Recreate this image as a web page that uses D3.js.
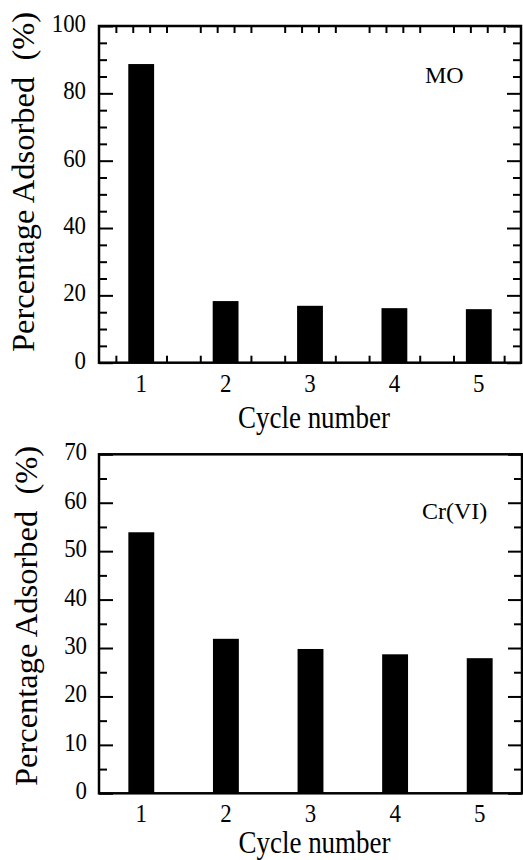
<!DOCTYPE html>
<html>
<head>
<meta charset="utf-8">
<script src="https://cdn.jsdelivr.net/npm/d3@7"></script>
<style>
  html, body { margin: 0; padding: 0; background: #fff; }
  svg { display: block; }
  text { font-family: "Liberation Serif", "Times New Roman", serif; fill: #000; }
</style>
</head>
<body>
<svg id="chart" width="523" height="860"></svg>
<script>
// ---- data ----
const cycles = [1, 2, 3, 4, 5];
const moValues = [88.7, 18.3, 16.9, 16.2, 15.9];
const crValues = [53.9, 31.9, 29.8, 28.7, 27.9];
const moYTicks = [0, 20, 40, 60, 80, 100];
const crYTicks = [0, 10, 20, 30, 40, 50, 60, 70];
const xTickLabels = ["1", "2", "3", "4", "5"];
const yLabel = "Percentage Adsorbed  (%)";
const xLabel = "Cycle number";

const svg = d3.select("#chart");
const SX = 0.88; // horizontal squeeze of the source's horizontal text

function panel(opts) {
  const { values, yMax, yMajor, yMinorStep, left, right, top, bottom,
          xMinor, label, labelX, labelY, yTitleX, yTitleY, xTitleY, tickLabelRight, xTickY } = opts;
  const g = svg.append("g");
  const x = d3.scaleLinear().domain([0.5, 5.5]).range([left, right]);
  const y = d3.scaleLinear().domain([0, yMax]).range([bottom, top]);

  // y ticks (inward on both sides)
  const minorVals = d3.range(0, yMax + 0.001, yMinorStep).filter(v => !yMajor.includes(v));
  const yAxisL = d3.axisRight(y).tickValues(yMajor).tickSize(14).tickFormat("");
  const yAxisLm = d3.axisRight(y).tickValues(minorVals).tickSize(8).tickFormat("");
  const yAxisR = d3.axisLeft(y).tickValues(yMajor).tickSize(14).tickFormat("");
  const yAxisRm = d3.axisLeft(y).tickValues(minorVals).tickSize(8).tickFormat("");
  [[yAxisL, left], [yAxisLm, left], [yAxisR, right], [yAxisRm, right]].forEach(([ax, px]) => {
    const a = g.append("g").attr("transform", `translate(${px},0)`).call(ax);
    a.select(".domain").remove();
    a.selectAll("line").attr("stroke", "#000").attr("stroke-width", 2);
  });

  // x minor ticks
  if (xMinor) {
    const xt = [];
    cycles.forEach(c => { xt.push(c - 0.3, c - 0.1, c + 0.1, c + 0.3); });
    const xb = d3.axisTop(x).tickValues(xt).tickSize(7).tickFormat("");
    const xtp = d3.axisBottom(x).tickValues(xt).tickSize(7).tickFormat("");
    [[xb, bottom], [xtp, top]].forEach(([ax, py]) => {
      const a = g.append("g").attr("transform", `translate(0,${py})`).call(ax);
      a.select(".domain").remove();
      a.selectAll("line").attr("stroke", "#000").attr("stroke-width", 2);
    });
  }

  // bars
  const bw = x(1.153) - x(0.847);
  g.selectAll("rect.bar").data(values).enter().append("rect")
    .attr("class", "bar")
    .attr("x", (d, i) => x(cycles[i]) - bw / 2)
    .attr("width", bw)
    .attr("y", d => y(d))
    .attr("height", d => y(0) - y(d))
    .attr("fill", "#000");

  // frame
  g.append("rect").attr("x", left).attr("y", top)
    .attr("width", right - left).attr("height", bottom - top)
    .attr("fill", "none").attr("stroke", "#000").attr("stroke-width", 2.5);

  // y tick labels
  g.selectAll("text.yt").data(yMajor).enter().append("text")
    .attr("class", "yt")
    .attr("transform", d => `translate(${tickLabelRight},${y(d) + 6}) scale(${SX},1)`)
    .attr("text-anchor", "end")
    .style("font-size", "26px")
    .text(d => d);

  // x tick labels
  g.selectAll("text.xt").data(cycles).enter().append("text")
    .attr("class", "xt")
    .attr("transform", (d) => `translate(${x(d)},${xTickY}) scale(${SX},1)`)
    .attr("text-anchor", "middle")
    .style("font-size", "26px")
    .text((d, i) => xTickLabels[i]);

  // axis titles
  g.append("text")
    .attr("transform", `translate(${(left + right) / 2 + 4},${xTitleY}) scale(0.87,1)`)
    .attr("text-anchor", "middle")
    .style("font-size", "31px")
    .text(xLabel);
  g.append("text")
    .attr("transform", `translate(${yTitleX},${yTitleY}) rotate(-90)`)
    .attr("text-anchor", "middle")
    .style("font-size", "32.5px")
    .style("white-space", "pre")
    .attr("xml:space", "preserve")
    .text(yLabel);

  // series label
  g.append("text").attr("x", labelX).attr("y", labelY)
    .style("font-size", "24px").text(label);
}

panel({
  values: moValues, yMax: 100, yMajor: moYTicks, yMinorStep: 5,
  left: 99, right: 521, top: 26, bottom: 362.7, xMinor: true,
  label: "MO", labelX: 425, labelY: 83,
  yTitleX: 34, yTitleY: 182, xTitleY: 428, tickLabelRight: 86, xTickY: 392
});
panel({
  values: crValues, yMax: 70, yMajor: crYTicks, yMinorStep: 5,
  left: 99, right: 522, top: 454.3, bottom: 793.3, xMinor: false,
  label: "Cr(VI)", labelX: 422, labelY: 519,
  yTitleX: 37, yTitleY: 616, xTitleY: 853, tickLabelRight: 87, xTickY: 822
});
</script>
</body>
</html>
